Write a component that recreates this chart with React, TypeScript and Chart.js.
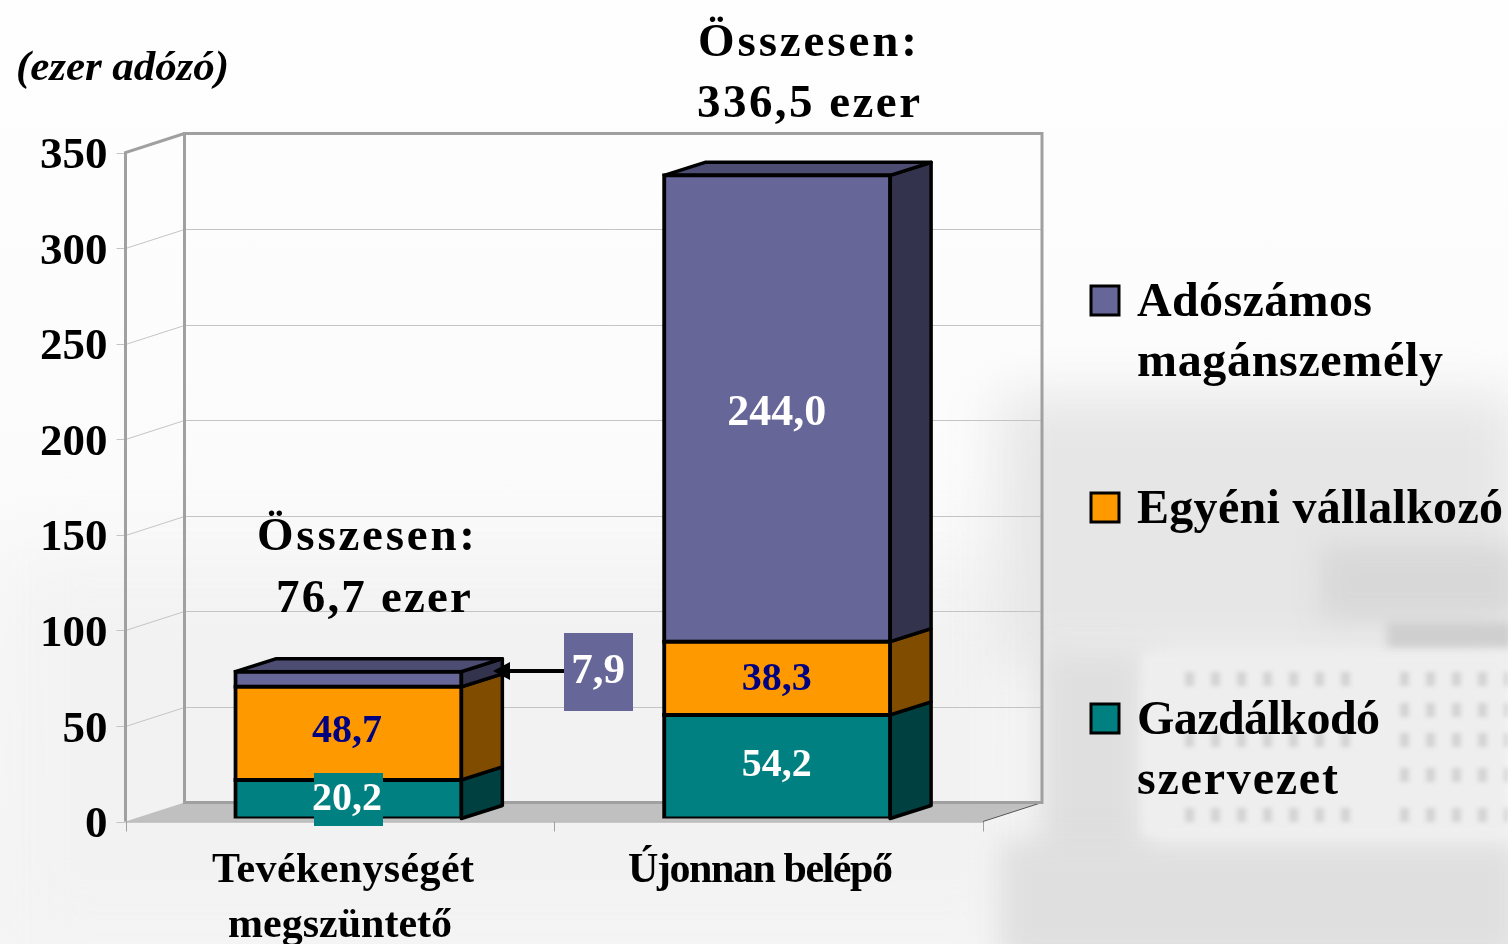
import React, { useEffect, useRef } from "react";
import { Chart, registerables } from "chart.js";

Chart.register(...registerables);

const categories = ["Tevékenységét\nmegszüntető", "Újonnan belépő"];
const gazdalkodo = [20.2, 54.2];
const egyeni = [48.7, 38.3];
const adoszamos = [7.9, 244.0];
const yTicks = [0, 50, 100, 150, 200, 250, 300, 350];
const totals = ["Összesen:\n76,7 ezer", "Összesen:\n336,5 ezer"];
const unitLabel = "(ezer adózó)";

const FONT = '"Liberation Serif", "Times New Roman", serif';
const DX = 59, DY = -19;           // wall depth
const BDX = 41, BDY = -13;         // bar depth
const SHIFT_X = 8.5, SHIFT_Y = -3; // bars stand slightly into the floor

const faceColors = ["#008080", "#FF9900", "#666699"];
const sideColors = ["#004040", "#7F4C00", "#33334D"];
const topColor = "#4D4D73";
const labelColors = ["#FFFFFF", "#000080", "#FFFFFF"];

function fit(ctx: any, text: string, x: number, y: number, width: number) {
  ctx.letterSpacing = "0px";
  const w = ctx.measureText(text).width;
  ctx.letterSpacing = ((width - w) / Math.max(1, text.length - 1)).toFixed(2) + "px";
  ctx.textAlign = "left";
  ctx.textBaseline = "middle";
  ctx.fillText(text, x, y);
  ctx.letterSpacing = "0px";
}

const plugin3d = {
  id: "plugin3d",
  beforeDatasetsDraw(chart: any) {
    const { ctx, chartArea: a, scales } = chart;
    const y = scales.y;
    ctx.save();
    // floor
    ctx.fillStyle = "#C0C0C0";
    ctx.beginPath();
    ctx.moveTo(a.left, a.bottom);
    ctx.lineTo(a.left + DX, a.bottom + DY);
    ctx.lineTo(a.right + DX, a.bottom + DY);
    ctx.lineTo(a.right, a.bottom);
    ctx.closePath();
    ctx.fill();
    // grid lines
    ctx.strokeStyle = "#C4C4C4";
    ctx.lineWidth = 1;
    for (const t of yTicks) {
      const py = Math.round(y.getPixelForValue(t)) + 0.5;
      ctx.beginPath();
      ctx.moveTo(a.left - 9, py);
      ctx.lineTo(a.left, py);
      if (t > 0 && t < 350) {
        ctx.lineTo(a.left + DX, py + DY);
        ctx.lineTo(a.right + DX, py + DY);
      }
      ctx.stroke();
    }
    // floor front edge, category ticks
    ctx.strokeStyle = "#A0A0A0";
    ctx.beginPath();
    ctx.moveTo(a.left, a.bottom + 0.5);
    ctx.lineTo(a.right, a.bottom + 0.5);
    const edges = [a.left, (a.left + a.right) / 2, a.right];
    for (const e of edges) {
      ctx.moveTo(Math.round(e) + 0.5, a.bottom);
      ctx.lineTo(Math.round(e) + 0.5, a.bottom + 10);
    }
    ctx.stroke();
    ctx.strokeStyle = "#555555";
    ctx.beginPath();
    ctx.moveTo(a.right, a.bottom);
    ctx.lineTo(a.right + DX, a.bottom + DY);
    ctx.stroke();
    // frame
    ctx.strokeStyle = "#A0A0A0";
    ctx.lineWidth = 3;
    ctx.lineJoin = "miter";
    ctx.beginPath();
    ctx.moveTo(a.left, a.bottom);
    ctx.lineTo(a.left, a.top);
    ctx.lineTo(a.left + DX, a.top + DY);
    ctx.stroke();
    ctx.beginPath();
    ctx.moveTo(a.left + DX, a.top + DY);
    ctx.lineTo(a.left + DX, a.bottom + DY);
    ctx.lineTo(a.right + DX, a.bottom + DY);
    ctx.lineTo(a.right + DX, a.top + DY);
    ctx.closePath();
    ctx.stroke();

    // side and top faces of the bars
    ctx.translate(SHIFT_X, SHIFT_Y);
    ctx.strokeStyle = "#000000";
    ctx.lineWidth = 3.5;
    ctx.lineJoin = "round";
    chart.data.datasets.forEach((_: any, di: number) => {
      const meta = chart.getDatasetMeta(di);
      meta.data.forEach((bar: any) => {
        const r = bar.x + bar.width / 2;
        const l = bar.x - bar.width / 2;
        const t = bar.y, b = bar.base;
        ctx.fillStyle = sideColors[di];
        ctx.beginPath();
        ctx.moveTo(r, t);
        ctx.lineTo(r + BDX, t + BDY);
        ctx.lineTo(r + BDX, b + BDY);
        ctx.lineTo(r, b);
        ctx.closePath();
        ctx.fill();
        ctx.stroke();
        if (di === chart.data.datasets.length - 1) {
          ctx.fillStyle = topColor;
          ctx.beginPath();
          ctx.moveTo(l, t);
          ctx.lineTo(l + BDX, t + BDY);
          ctx.lineTo(r + BDX, t + BDY);
          ctx.lineTo(r, t);
          ctx.closePath();
          ctx.fill();
          ctx.stroke();
        }
      });
    });
    ctx.restore();
    ctx.save();
    ctx.translate(SHIFT_X, SHIFT_Y);
  },
  afterDatasetsDraw(chart: any) {
    const { ctx, scales } = chart;
    ctx.restore();
    ctx.save();
    ctx.fillStyle = "#000000";

    // unit label
    ctx.font = `italic bold 43px ${FONT}`;
    fit(ctx, unitLabel, 16, 69, 213);

    // totals
    ctx.font = `bold 47px ${FONT}`;
    const a = totals[0].split("\n"), b = totals[1].split("\n");
    fit(ctx, a[0], 257, 538, 218);
    fit(ctx, a[1], 276, 600, 195);
    fit(ctx, b[0], 698, 44, 219);
    fit(ctx, b[1], 697, 105, 223);

    // category labels
    ctx.font = `bold 42px ${FONT}`;
    const c0 = String(scales.x.getLabelForValue(0)).split("\n");
    const c1 = String(scales.x.getLabelForValue(1)).split("\n");
    fit(ctx, c0[0], 212, 871, 262);
    fit(ctx, c0[1], 228, 926, 224);
    fit(ctx, c1[0], 628, 871, 265);

    // legend
    const legendRows: [number, number, string[]][] = [
      [2, 301, ["Adószámos", "magánszemély"]],
      [1, 508, ["Egyéni vállalkozó"]],
      [0, 719, ["Gazdálkodó", "szervezet"]],
    ];
    const legendWidths: Record<string, number> = {
      "Adószámos": 235, "magánszemély": 306, "Egyéni vállalkozó": 366,
      "Gazdálkodó": 243, "szervezet": 201,
    };
    ctx.font = `bold 48px ${FONT}`;
    for (const [di, yy, lines] of legendRows) {
      ctx.fillStyle = faceColors[di];
      ctx.strokeStyle = "#000000";
      ctx.lineWidth = 3;
      ctx.fillRect(1091, yy - 15, 28, 29);
      ctx.strokeRect(1091, yy - 15, 28, 29);
      ctx.fillStyle = "#000000";
      lines.forEach((ln, i) => fit(ctx, ln, 1137, yy + 3 + i * 60, legendWidths[ln]));
    }

    // value labels
    ctx.textAlign = "center";
    ctx.textBaseline = "middle";
    const valueFont: Record<string, number> = { "244,0": 44, "7,9": 43 };
    const valueNudgeY: Record<string, number> = { "244,0": 5, "38,3": 1, "54,2": -1, "20,2": 0, "48,7": -2 };
    chart.data.datasets.forEach((ds: any, di: number) => {
      chart.getDatasetMeta(di).data.forEach((bar: any, i: number) => {
        const txt = Number(ds.data[i]).toFixed(1).replace(".", ",");
        ctx.font = `bold ${valueFont[txt] ?? 40}px ${FONT}`;
        const cx = bar.x + SHIFT_X - (i === 0 ? 1.5 : 0.5);
        const cy = (bar.y + bar.base) / 2 + SHIFT_Y + (valueNudgeY[txt] ?? 0);
        if (di === 2 && i === 0) {
          // callout for the thin segment
          ctx.strokeStyle = "#000000";
          ctx.lineWidth = 4;
          ctx.beginPath();
          ctx.moveTo(566, 671);
          ctx.lineTo(505, 671);
          ctx.stroke();
          ctx.fillStyle = "#000000";
          ctx.beginPath();
          ctx.moveTo(493, 671);
          ctx.lineTo(510, 662);
          ctx.lineTo(510, 680);
          ctx.closePath();
          ctx.fill();
          ctx.fillStyle = faceColors[2];
          ctx.fillRect(564, 633, 69, 78);
          ctx.fillStyle = labelColors[di];
          ctx.fillText(txt, 598, 672);
          return;
        }
        if (di === 0 && i === 0) {
          ctx.fillStyle = faceColors[0];
          ctx.fillRect(314, 773, 69, 53);
        }
        ctx.fillStyle = labelColors[di];
        ctx.fillText(txt, cx, cy);
      });
    });
    ctx.restore();
  },
};

const windows = "repeating-linear-gradient(90deg,#d4d4d4 0 9px,transparent 9px 26px)";
const blobs: React.CSSProperties[] = [
  { left: 0, top: 560, width: 1040, height: 384, background: "#f2f2f2", filter: "blur(40px)" },
  { left: 1000, top: 395, width: 520, height: 270, background: "#e6e6e6", filter: "blur(26px)" },
  { left: 1320, top: 545, width: 200, height: 75, background: "#d8d8d8", filter: "blur(14px)" },
  { left: 1387, top: 622, width: 125, height: 26, background: "#cfcfcf", filter: "blur(5px)" },
  { left: 1040, top: 650, width: 105, height: 260, background: "#dfdfdf", filter: "blur(14px)" },
  { left: 1000, top: 840, width: 520, height: 120, background: "#dfdfdf", filter: "blur(14px)" },
  { left: 1143, top: 653, width: 365, height: 183, background: "#eeeeee", filter: "blur(4px)" },
  { left: 1185, top: 672, width: 170, height: 14, background: windows, filter: "blur(2px)" },
  { left: 1400, top: 672, width: 108, height: 14, background: windows, filter: "blur(2px)" },
  { left: 1400, top: 703, width: 108, height: 14, background: windows, filter: "blur(2px)" },
  { left: 1185, top: 733, width: 170, height: 14, background: windows, filter: "blur(2px)" },
  { left: 1400, top: 733, width: 108, height: 14, background: windows, filter: "blur(2px)" },
  { left: 1400, top: 768, width: 108, height: 14, background: windows, filter: "blur(2px)" },
  { left: 1185, top: 808, width: 170, height: 14, background: windows, filter: "blur(2px)" },
  { left: 1400, top: 808, width: 108, height: 14, background: windows, filter: "blur(2px)" },
];

export default function App() {
  const ref = useRef<HTMLCanvasElement>(null);
  useEffect(() => {
    document.body.style.margin = "0";
    const chart = new Chart(ref.current as HTMLCanvasElement, {
      type: "bar",
      data: {
        labels: categories,
        datasets: [
          { label: "Gazdálkodó szervezet", data: gazdalkodo, backgroundColor: faceColors[0], borderColor: "#000", borderWidth: 4 },
          { label: "Egyéni vállalkozó", data: egyeni, backgroundColor: faceColors[1], borderColor: "#000", borderWidth: 4 },
          { label: "Adószámos magánszemély", data: adoszamos, backgroundColor: faceColors[2], borderColor: "#000", borderWidth: 4 },
        ],
      } as any,
      options: {
        responsive: false,
        animation: false,
        layout: { padding: { top: 152.5, left: 0, right: 525, bottom: 0 } },
        plugins: { legend: { display: false }, tooltip: { enabled: false } },
        datasets: { bar: { barPercentage: 0.527, categoryPercentage: 1, borderSkipped: false, inflateAmount: 2 } },
        scales: {
          x: {
            stacked: true,
            grid: { display: false },
            border: { display: false },
            ticks: { display: false },
            afterFit: (s: any) => { s.height = 944 - 821.5; },
          },
          y: {
            stacked: true,
            min: 0,
            max: 350,
            grid: { display: false, drawTicks: false },
            border: { display: false },
            ticks: {
              stepSize: 50,
              padding: 18,
              labelOffset: 4,
              color: "#000",
              font: { family: FONT, size: 45, weight: "bold" },
            },
            afterFit: (s: any) => { s.width = 125.5; },
          },
        },
      } as any,
      plugins: [plugin3d],
    });
    return () => chart.destroy();
  }, []);
  return (
    <div style={{ position: "relative", width: 1508, height: 944, overflow: "hidden", background: "linear-gradient(#fefefe 0%,#fcfcfc 40%,#f6f6f6 100%)" }}>
      {blobs.map((b, i) => (
        <div key={i} style={{ position: "absolute", ...b }} />
      ))}
      <canvas ref={ref} width={1508} height={944} style={{ position: "absolute", left: 0, top: 0, display: "block" }} />
    </div>
  );
}
